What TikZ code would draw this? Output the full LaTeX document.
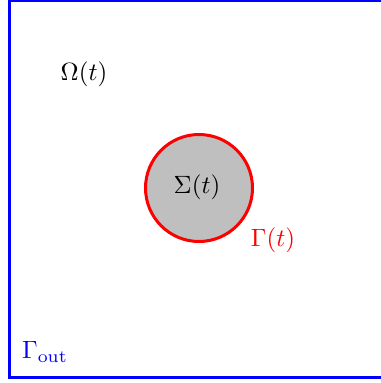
\documentclass[tikz,border=0pt]{standalone}
\usepackage{amsmath}
\usepackage{amssymb}
\usepackage{xcolor}

\begin{document}
\begin{tikzpicture}[x=0.4pt,y=0.4pt]
\useasboundingbox (0,0) rectangle (381,383);
\clip (0,0) rectangle (381,383);
\draw[blue,very thick] (9.5,5.5) rectangle (387,383);
\draw[red,very thick,fill=lightgray] (199,195) circle (53.5);
\node (Sigma) at (197,196) {\(\Sigma(t)\)};
\node (Omega) at (84,309) {\(\Omega(t)\)};
\node[red] (Gamma) at (273,143) {\(\Gamma(t)\)};
\node[blue] (Gout) at (45,31) {\(\Gamma_{\text{out}}\)};
\end{tikzpicture}
\end{document}
